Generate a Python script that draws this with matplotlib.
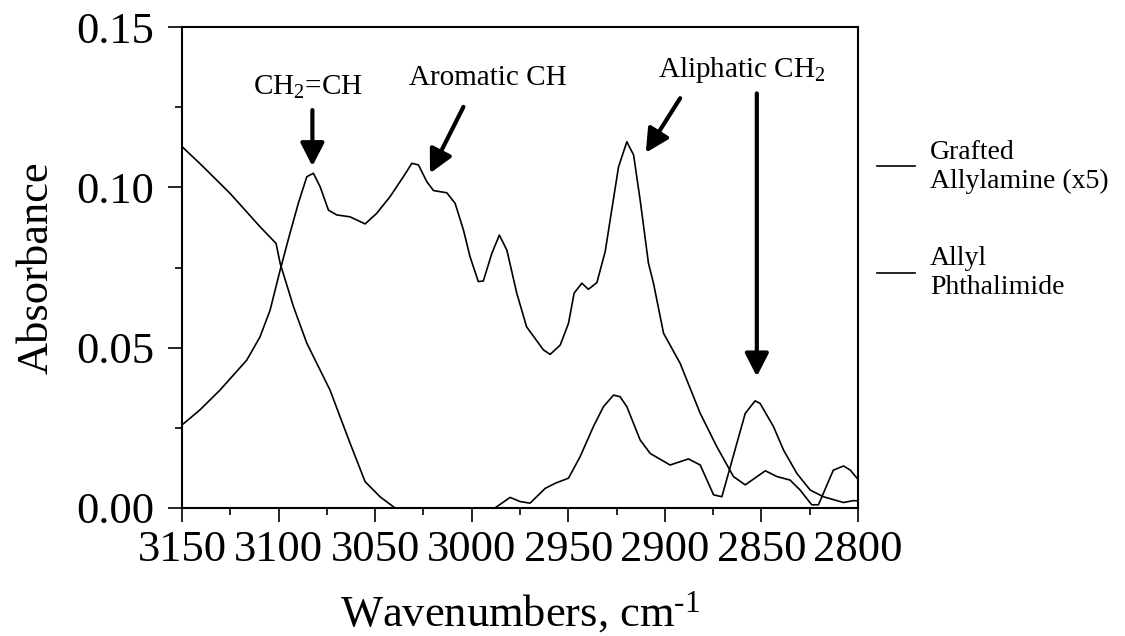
import matplotlib
matplotlib.use('Agg')
import matplotlib.pyplot as plt
from matplotlib.ticker import MultipleLocator, FormatStrFormatter

plt.rcParams['font.family'] = ['Liberation Serif', 'DejaVu Serif']
plt.rcParams['mathtext.fontset'] = 'custom'
plt.rcParams['mathtext.rm'] = 'Liberation Serif'
plt.rcParams['mathtext.it'] = 'Liberation Serif:italic'

# Allyl Phthalimide (large spectrum)
phth_x = [3150, 3140.7, 3130.3, 3116.5, 3109.6, 3104.4, 3099.2, 3094.1, 3089.8, 3085.4,
          3082.0, 3078.5, 3074.2, 3069.9, 3063.0, 3055.2, 3049.2, 3042.3, 3035.4, 3031.0,
          3027.6, 3023.3, 3019.8, 3012.9, 3008.6, 3004.3, 3000.9, 2996.6, 2994.0, 2989.6,
          2985.7, 2981.8, 2976.7, 2971.6, 2962.9, 2959.4, 2954.2, 2949.9, 2947.0, 2943.0,
          2939.6, 2935.2, 2930.9, 2924.0, 2919.7, 2916.2, 2912.8, 2908.5, 2905.9, 2900.7,
          2892.1, 2881.7, 2873.1, 2864.5, 2858.4, 2848.0, 2842.0, 2835.2, 2830.0, 2824.0,
          2820.5, 2812.8, 2807.5, 2804.0, 2800.0]
phth_y = [0.0259, 0.0306, 0.0368, 0.0461, 0.0534, 0.0617, 0.0742, 0.0857, 0.0950, 0.1033,
          0.1044, 0.1002, 0.0929, 0.0914, 0.0908, 0.0886, 0.0919, 0.0971, 0.1033, 0.1075,
          0.1070, 0.1018, 0.0990, 0.0983, 0.0950, 0.0867, 0.0784, 0.0706, 0.0708, 0.0794,
          0.0851, 0.0804, 0.0670, 0.0565, 0.0493, 0.0479, 0.0508, 0.0576, 0.0670, 0.0701,
          0.0682, 0.0703, 0.0800, 0.1064, 0.1142, 0.1101, 0.0960, 0.0763, 0.0701, 0.0545,
          0.0451, 0.0295, 0.0191, 0.0098, 0.0072, 0.0116, 0.0098, 0.0087, 0.0056, 0.0010,
          0.0010, 0.0118, 0.0131, 0.0118, 0.0089]

# Grafted Allylamine (x5)
graft_x = [3150, 3139.0, 3125.1, 3109.6, 3101.3, 3099.2, 3092.3, 3085.4, 3073.4, 3063.0,
           3055.2, 3047.5, 3039.7, 2988.0, 2980.1, 2975.0, 2969.8, 2962.0, 2956.8, 2949.9,
           2943.9, 2937.0, 2931.8, 2926.6, 2923.2, 2919.7, 2912.8, 2907.6, 2897.3, 2887.8,
           2881.7, 2874.8, 2870.5, 2858.4, 2853.3, 2850.7, 2843.8, 2838.6, 2831.7, 2824.8,
           2817.9, 2807.5, 2802.4, 2800.0]
graft_y = [0.1127, 0.1064, 0.0981, 0.0877, 0.0825, 0.0763, 0.0628, 0.0514, 0.0368, 0.0202,
           0.0082, 0.0035, 0.0000, 0.0000, 0.0033, 0.0020, 0.0015, 0.0061, 0.0077, 0.0093,
           0.0160, 0.0254, 0.0316, 0.0352, 0.0347, 0.0316, 0.0212, 0.0170, 0.0134, 0.0153,
           0.0134, 0.0041, 0.0035, 0.0295, 0.0334, 0.0326, 0.0254, 0.0181, 0.0108, 0.0056,
           0.0035, 0.0017, 0.0023, 0.0022]

labels = ['Grafted\nAllylamine (x5)', 'Allyl\nPhthalimide']

# peak annotations: text, text pos, arrow tail, arrow tip
notes = [
    ('CH$_2$=CH', (3085.0, 0.1288), (3082.5, 0.1241), (3082.5, 0.1066)),
    ('Aromatic CH', (2991.8, 0.1319), (3004.3, 0.1251), (3021.6, 0.1044)),
    ('Aliphatic CH$_2$', (2860.5, 0.1344), (2892.1, 0.1278), (2909.9, 0.1108)),
]
extra_arrow = ((2852.4, 0.1293), (2852.4, 0.0410))

fig = plt.figure(figsize=(11.25, 6.36), dpi=100)
ax = fig.add_axes([0.1618, 0.2013, 0.6009, 0.7562])

ax.plot(graft_x, graft_y, color='black', lw=1.2, label=labels[0], clip_on=False)
ax.plot(phth_x, phth_y, color='black', lw=1.2, label=labels[1], clip_on=False)

ax.set_xlim(3150, 2800)
ax.set_ylim(0, 0.15)
ax.xaxis.set_major_locator(MultipleLocator(50))
ax.xaxis.set_minor_locator(MultipleLocator(25))
ax.yaxis.set_major_locator(MultipleLocator(0.05))
ax.yaxis.set_minor_locator(MultipleLocator(0.025))
ax.xaxis.set_major_formatter(FormatStrFormatter('%d'))
ax.yaxis.set_major_formatter(FormatStrFormatter('%.2f'))
ax.tick_params(which='major', length=10, width=1.2, labelsize=32, pad=6)
ax.tick_params(which='minor', length=5, width=1.2)
ax.tick_params(axis='y', pad=10)
for s in ax.spines.values():
    s.set_linewidth(1.5)

ax.set_xlabel(r'Wavenumbers, cm$^{\text{-}1}$', fontsize=32, labelpad=14)
ax.set_ylabel('Absorbance', fontsize=32, labelpad=14)

arrow = dict(arrowstyle='-|>,head_length=0.7,head_width=0.36', lw=3, color='black',
             mutation_scale=20, shrinkA=0, shrinkB=0)
for txt, tpos, tail, tip in notes:
    ax.text(tpos[0], tpos[1], txt, fontsize=21, ha='center', va='baseline')
    ax.annotate('', xy=tip, xytext=tail, arrowprops=arrow)
ax.annotate('', xy=extra_arrow[1], xytext=extra_arrow[0], arrowprops=arrow)

fig.legend(loc='center left', bbox_to_anchor=(877 / 1125, 1 - 220 / 636),
           frameon=False, fontsize=20, handlelength=1.36, handletextpad=0.54,
           labelspacing=1.9, borderpad=0, borderaxespad=0)

fig.savefig('out.png', dpi=100)
